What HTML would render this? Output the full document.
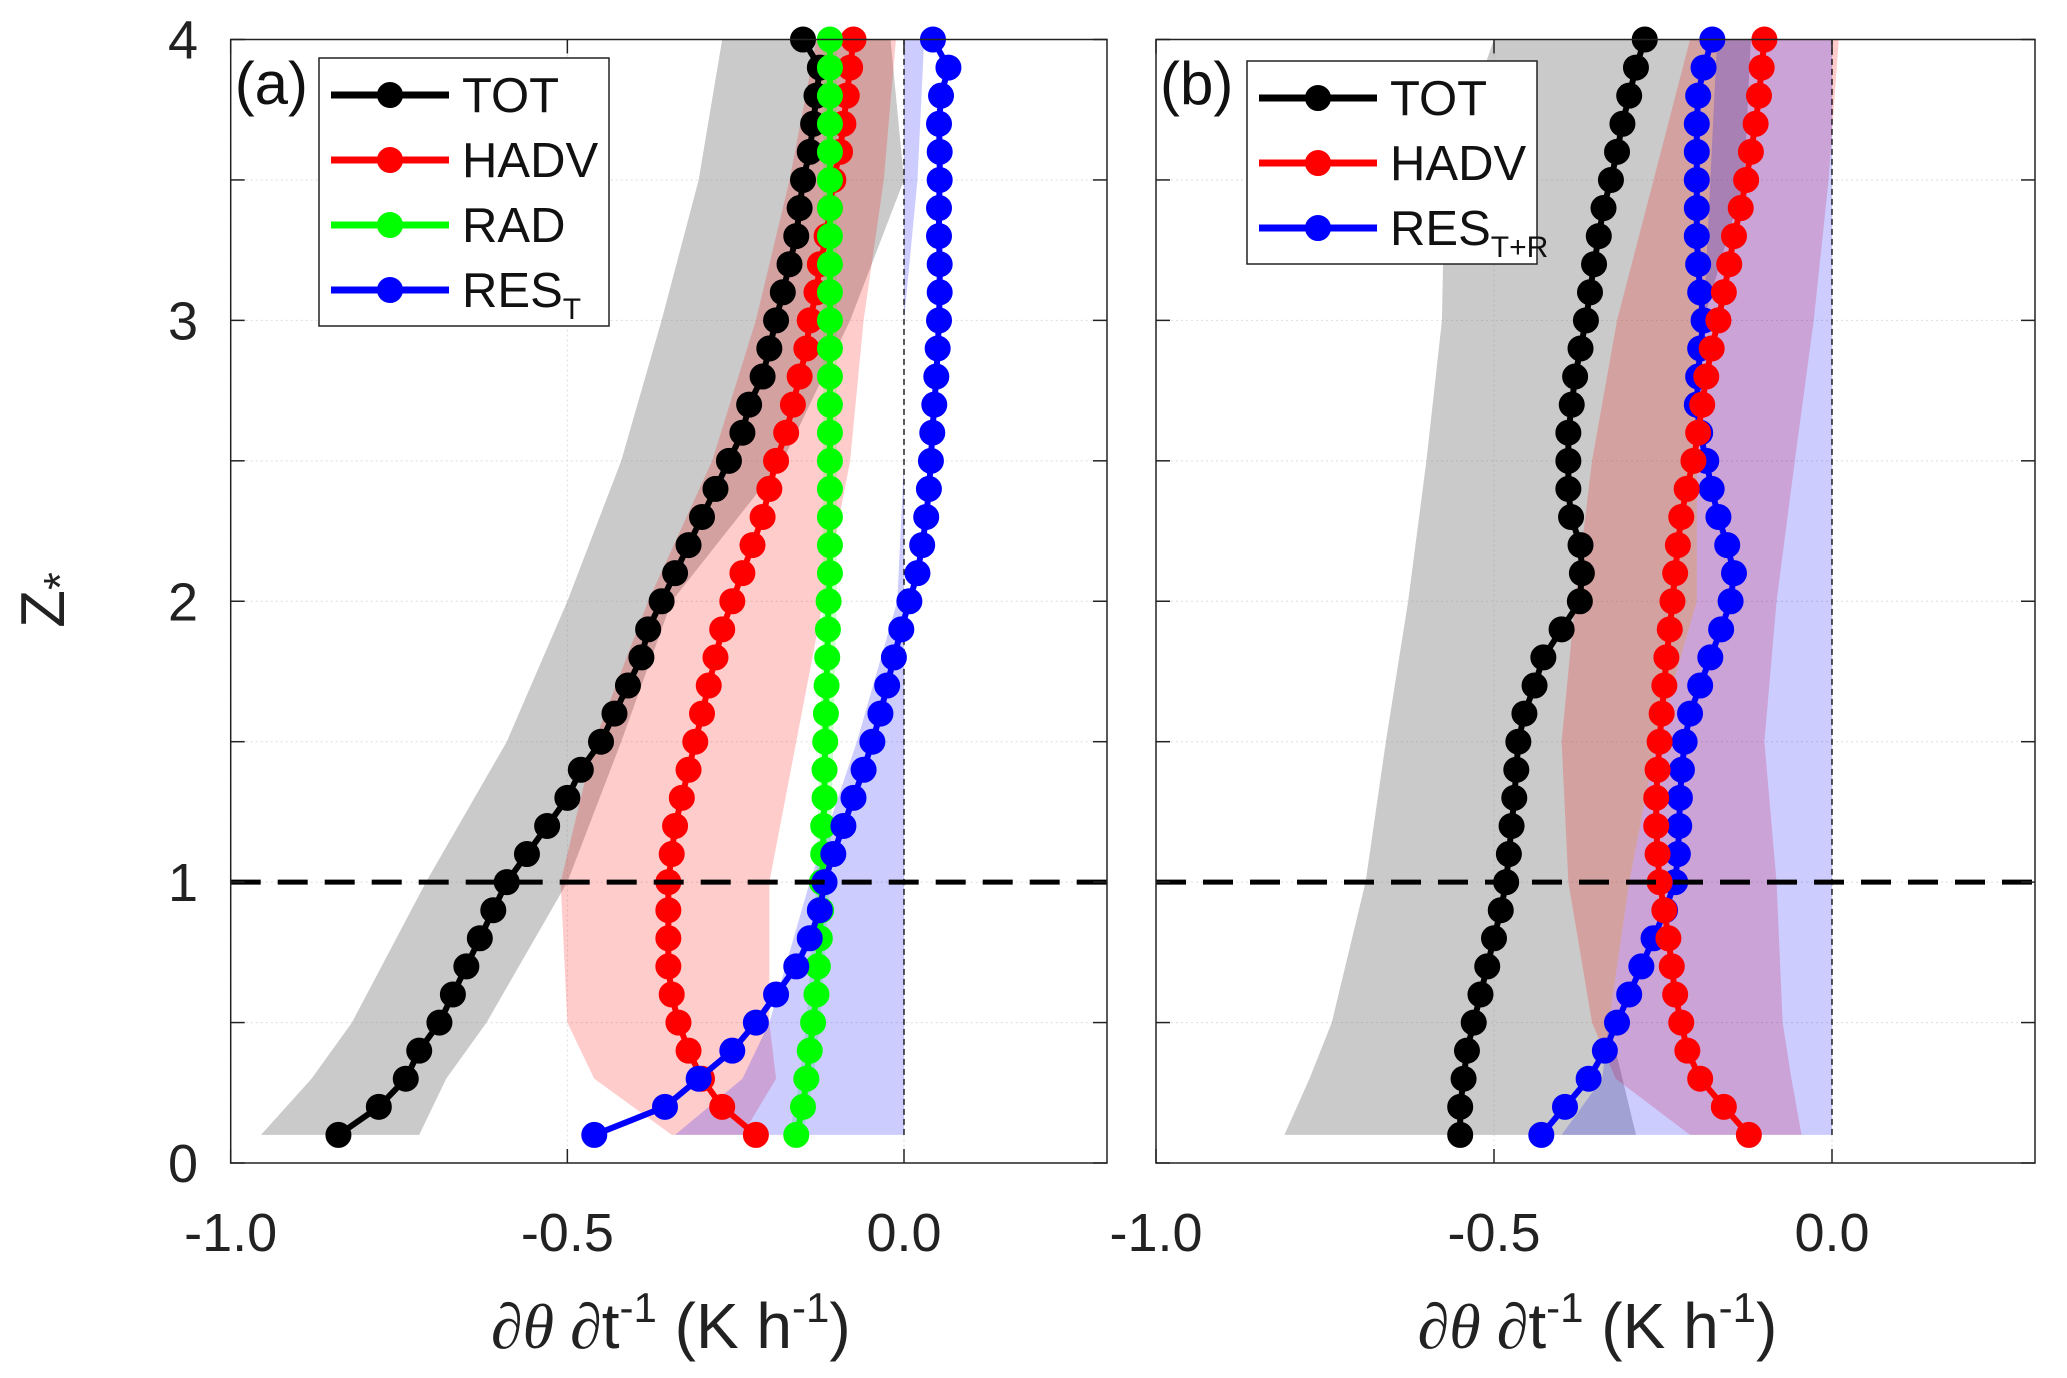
<!DOCTYPE html>
<html><head><meta charset="utf-8"><style>
html,body{margin:0;padding:0;background:#fff;}
svg{display:block;font-family:"Liberation Sans",sans-serif;}
</style></head><body>
<svg id="chart" width="2067" height="1378" viewBox="0 0 2067 1378" xmlns="http://www.w3.org/2000/svg"></svg>
<script>
const zLevels=[0.1,0.2,0.3,0.4,0.5,0.6,0.7,0.8,0.9,1.0,1.1,1.2,1.3,1.4,1.5,1.6,1.7,1.8,1.9,2.0,2.1,2.2,2.3,2.4,2.5,2.6,2.7,2.8,2.9,3.0,3.1,3.2,3.3,3.4,3.5,3.6,3.7,3.8,3.9,4.0];
const totA=[-0.84,-0.78,-0.74,-0.72,-0.69,-0.67,-0.65,-0.63,-0.61,-0.59,-0.56,-0.53,-0.50,-0.48,-0.45,-0.43,-0.41,-0.39,-0.38,-0.36,-0.34,-0.32,-0.30,-0.28,-0.26,-0.24,-0.23,-0.21,-0.20,-0.19,-0.18,-0.17,-0.16,-0.155,-0.15,-0.14,-0.135,-0.13,-0.125,-0.15];
const hadvA=[-0.22,-0.27,-0.30,-0.32,-0.335,-0.345,-0.35,-0.35,-0.35,-0.35,-0.345,-0.34,-0.33,-0.32,-0.31,-0.30,-0.29,-0.28,-0.27,-0.255,-0.24,-0.225,-0.21,-0.20,-0.19,-0.175,-0.165,-0.155,-0.145,-0.14,-0.13,-0.125,-0.115,-0.11,-0.105,-0.095,-0.09,-0.085,-0.08,-0.075];
const radA=[-0.16,-0.15,-0.145,-0.14,-0.135,-0.13,-0.128,-0.125,-0.123,-0.122,-0.12,-0.12,-0.118,-0.118,-0.117,-0.116,-0.115,-0.114,-0.113,-0.112,-0.11,-0.11,-0.11,-0.11,-0.11,-0.11,-0.11,-0.11,-0.11,-0.11,-0.11,-0.11,-0.11,-0.11,-0.11,-0.11,-0.11,-0.11,-0.11,-0.11];
const resA=[-0.46,-0.355,-0.305,-0.255,-0.22,-0.19,-0.16,-0.14,-0.125,-0.118,-0.105,-0.09,-0.075,-0.06,-0.047,-0.035,-0.025,-0.015,-0.004,0.008,0.02,0.027,0.033,0.037,0.04,0.042,0.045,0.048,0.05,0.052,0.053,0.053,0.052,0.052,0.053,0.053,0.052,0.055,0.066,0.043];
const totB=[-0.55,-0.55,-0.545,-0.54,-0.53,-0.52,-0.51,-0.50,-0.49,-0.482,-0.478,-0.474,-0.47,-0.467,-0.464,-0.455,-0.44,-0.427,-0.40,-0.373,-0.37,-0.372,-0.386,-0.39,-0.39,-0.39,-0.385,-0.38,-0.372,-0.364,-0.358,-0.352,-0.345,-0.338,-0.327,-0.318,-0.31,-0.30,-0.29,-0.277];
const hadvB=[-0.123,-0.16,-0.195,-0.214,-0.223,-0.232,-0.237,-0.242,-0.248,-0.255,-0.258,-0.26,-0.26,-0.258,-0.255,-0.252,-0.248,-0.245,-0.24,-0.236,-0.232,-0.228,-0.223,-0.215,-0.205,-0.198,-0.192,-0.186,-0.178,-0.168,-0.16,-0.152,-0.145,-0.135,-0.127,-0.12,-0.113,-0.108,-0.104,-0.10];
const resB=[-0.43,-0.395,-0.36,-0.336,-0.318,-0.30,-0.282,-0.264,-0.247,-0.232,-0.228,-0.226,-0.225,-0.222,-0.218,-0.21,-0.195,-0.18,-0.164,-0.15,-0.145,-0.155,-0.168,-0.178,-0.186,-0.195,-0.20,-0.198,-0.195,-0.19,-0.195,-0.198,-0.20,-0.20,-0.20,-0.20,-0.20,-0.198,-0.19,-0.177];
// spread bands at sparse heights
const bandZ=[0.1,0.3,0.5,1.0,1.5,2.0,2.5,3.0,3.5,4.0];
const grayLoA=[-0.955,-0.88,-0.82,-0.71,-0.59,-0.50,-0.42,-0.36,-0.305,-0.27];
const grayHiA=[-0.72,-0.68,-0.62,-0.50,-0.42,-0.345,-0.18,-0.08,0.0,-0.02];
const redLoA=[-0.345,-0.46,-0.50,-0.51,-0.46,-0.38,-0.285,-0.22,-0.17,-0.13];
const redHiA=[-0.24,-0.19,-0.20,-0.20,-0.16,-0.12,-0.08,-0.06,-0.03,-0.012];
const greenLoA=[-0.17,-0.155,-0.145,-0.13,-0.125,-0.12,-0.12,-0.12,-0.12,-0.12];
const greenHiA=[-0.15,-0.135,-0.125,-0.11,-0.105,-0.1,-0.1,-0.1,-0.1,-0.1];
const blueLoA=[-0.34,-0.24,-0.20,-0.14,-0.07,-0.01,0.0,0.0,0.0,0.0];
const blueHiA=[0.0,0.0,0.0,0.0,0.0,0.0,0.0,0.0,0.02,0.03];
const grayLoB=[-0.81,-0.773,-0.74,-0.69,-0.66,-0.627,-0.60,-0.577,-0.573,-0.50];
const grayHiB=[-0.29,-0.31,-0.33,-0.30,-0.26,-0.20,-0.20,-0.19,-0.13,-0.12];
const redLoB=[-0.21,-0.32,-0.355,-0.39,-0.40,-0.38,-0.355,-0.318,-0.264,-0.21];
const redHiB=[-0.045,-0.06,-0.073,-0.082,-0.10,-0.082,-0.055,-0.027,-0.005,0.01];
const blueLoB=[-0.40,-0.34,-0.33,-0.30,-0.26,-0.20,-0.20,-0.19,-0.18,-0.17];
const blueHiB=[0.0,0.0,0.0,0.0,0.0,0.0,0.0,0.0,0.0,0.0];
const xTicks=[-1.0,-0.5,0.0];
const xTickLabels=["-1.0","-0.5","0.0"];
const yTicks=[0,1,2,3,4];
const yTickLabels=["0","1","2","3","4"];
const yMinor=[0.5,1.5,2.5,3.5];

const NS="http://www.w3.org/2000/svg";
const svg=document.getElementById('chart');
function mk(tag,attrs,parent){const e=document.createElementNS(NS,tag);for(const k in attrs)e.setAttribute(k,attrs[k]);(parent||svg).appendChild(e);return e;}

const Y0=1163, Y4=39.5;
function yS(z){return Y0+(Y4-Y0)*z/4;}
const panels=[
 {id:'a',left:230.7,zero:904,right:1107,label:'(a)',
  bands:[[grayLoA,grayHiA,'rgba(128,128,128,0.42)','tot-spread'],[redLoA,redHiA,'rgba(255,0,0,0.2)','hadv-spread'],[greenLoA,greenHiA,'rgba(0,255,0,0.2)','rad-spread'],[blueLoA,blueHiA,'rgba(0,0,255,0.2)','res-spread']],
  series:[[totA,'#000','tot'],[hadvA,'#f00','hadv'],[radA,'#0f0','rad'],[resA,'#00f','res']],
  legend:{x:319,y:58,w:290,h:268,items:[['#000','TOT',''],['#f00','HADV',''],['#0f0','RAD',''],['#00f','RES','T']]}},
 {id:'b',left:1156,zero:1832,right:2035,label:'(b)',
  bands:[[grayLoB,grayHiB,'rgba(128,128,128,0.42)','tot-spread'],[redLoB,redHiB,'rgba(255,0,0,0.2)','hadv-spread'],[blueLoB,blueHiB,'rgba(0,0,255,0.2)','res-spread']],
  series:[[totB,'#000','tot'],[resB,'#00f','res'],[hadvB,'#f00','hadv']],
  legend:{x:1247,y:61,w:290,h:203,items:[['#000','TOT',''],['#f00','HADV',''],['#00f','RES','T+R']]}}
];
panels.forEach(p=>{
  const unit=p.zero-p.left;
  const xS=v=>p.zero+v*unit;
  const g=mk('g',{});
  
  
  yTicks.concat(yMinor).forEach(z=>{ if(z>0&&z<4){const l=mk('line',{x1:p.left,x2:p.right,y1:yS(z),y2:yS(z),stroke:'#ddd','stroke-width':1,'stroke-dasharray':'2,3'},g);
    }});
  xTicks.forEach(v=>{const l=mk('line',{x1:xS(v),x2:xS(v),y1:Y4,y2:Y0,stroke:'#ddd','stroke-width':1,'stroke-dasharray':'2,3'},g);
    });
  p.bands.forEach(b=>{
    let pts=[];
    bandZ.forEach((z,i)=>pts.push(xS(b[0][i])+','+yS(z)));
    for(let i=bandZ.length-1;i>=0;i--)pts.push(xS(b[1][i])+','+yS(bandZ[i]));
    const poly=mk('polygon',{points:pts.join(' '),fill:b[2],stroke:'none'},g);
    
    
  });
  const zl=mk('line',{x1:xS(0),x2:xS(0),y1:yS(0.1),y2:Y4,stroke:'#000','stroke-width':1.3,'stroke-dasharray':'6,4'},g);
  
  p.series.forEach(s=>{
    const sg=mk('g',{},g);
    
    
    const d=s[0].map((v,i)=>(i?'L':'M')+xS(v)+','+yS(zLevels[i])).join(' ');
    mk('path',{d:d,fill:'none',stroke:s[1],'stroke-width':6},sg);
    s[0].forEach((v,i)=>{const c=mk('circle',{cx:xS(v),cy:yS(zLevels[i]),r:11,fill:s[1],stroke:s[1],'stroke-width':4},sg);
      });
  });
  const bl=mk('line',{x1:p.left,x2:p.right,y1:yS(1),y2:yS(1),stroke:'#000','stroke-width':5,'stroke-dasharray':'30,17'},g);
  
  const box=mk('rect',{x:p.left,y:Y4,width:p.right-p.left,height:Y0-Y4,fill:'none',stroke:'#222','stroke-width':1.5},g);
  
  yTicks.concat(yMinor).forEach(z=>{
    mk('line',{x1:p.left,x2:p.left+14,y1:yS(z),y2:yS(z),stroke:'#222','stroke-width':1.5},g);
    mk('line',{x1:p.right,x2:p.right-14,y1:yS(z),y2:yS(z),stroke:'#222','stroke-width':1.5},g);
  });
  xTicks.forEach((v,i)=>{
    mk('line',{x1:xS(v),x2:xS(v),y1:Y0,y2:Y0-14,stroke:'#222','stroke-width':1.5},g);
    mk('line',{x1:xS(v),x2:xS(v),y1:Y4,y2:Y4+14,stroke:'#222','stroke-width':1.5},g);
    const t=mk('text',{x:xS(v),y:1251,'text-anchor':'middle','font-size':54,fill:'#222'},g);
    t.textContent=xTickLabels[i];
    
  });
  if(p.id==='a'){
    yTicks.forEach((z,i)=>{const t=mk('text',{x:198,y:yS(z)+19,'text-anchor':'end','font-size':54,fill:'#222'},g);
      t.textContent=yTickLabels[i];
      });
  }
  const xt=mk('text',{x:(p.left+p.right)/2+2,y:1348,'text-anchor':'middle','font-size':64,fill:'#222'},g);
  xt.innerHTML='<tspan font-style="italic" font-family="Liberation Serif, serif">∂θ ∂</tspan>t<tspan dy="-26" font-size="42">-1</tspan><tspan dy="26"> (K h</tspan><tspan dy="-26" font-size="42">-1</tspan><tspan dy="26">)</tspan>';
  
  const pl=mk('text',{x:p.left+4,y:104,'font-size':60,fill:'#111'},g);
  pl.textContent=p.label;
  
  const L=p.legend;
  const lg=mk('g',{},g);
  
  mk('rect',{x:L.x,y:L.y,width:L.w,height:L.h,fill:'#fff',stroke:'#222','stroke-width':1.5},lg);
  L.items.forEach((it,i)=>{
    const cy=L.y+37+i*65;
    const e=mk('g',{},lg);
    
    mk('line',{x1:L.x+12,x2:L.x+130,y1:cy,y2:cy,stroke:it[0],'stroke-width':7},e);
    mk('circle',{cx:L.x+71,cy:cy,r:11,fill:it[0],stroke:it[0],'stroke-width':4},e);
    const t=mk('text',{x:L.x+143,y:cy+17,'font-size':49,fill:'#111'},e);
    t.textContent=it[1];
    if(it[2]){const s=mk('tspan',{dy:12,'font-size':30},t);s.textContent=it[2];}
  });
});
const yt=mk('text',{x:0,y:0,'text-anchor':'middle','font-size':62,fill:'#222',transform:'translate(64,600) rotate(-90)'});
yt.innerHTML='Z<tspan dy="12" font-size="46">*</tspan>';

</script>
</body></html>
